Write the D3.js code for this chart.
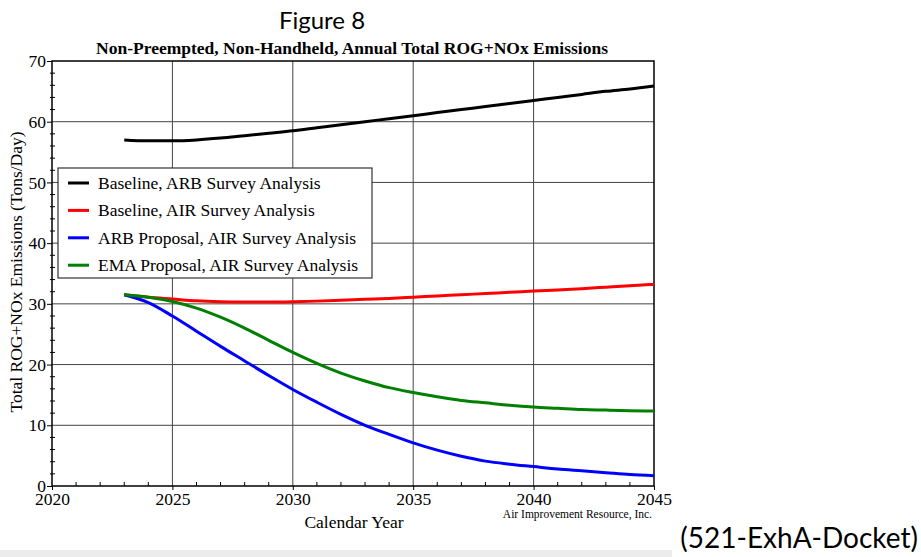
<!DOCTYPE html>
<html>
<head>
<meta charset="utf-8">
<script src="https://cdn.jsdelivr.net/npm/d3@7"></script>
<style>
  html, body { margin: 0; padding: 0; background: #fff; }
  svg { display: block; }
</style>
</head>
<body>
<svg id="chart" width="921" height="557"></svg>
<script>
// Calendar years and annual total ROG+NOx emissions (tons/day)
const years = d3.range(2023, 2046);
const baselineARB = [57.0, 56.85, 56.85, 57.0, 57.3, 57.7, 58.1, 58.5, 59.0, 59.5, 60.0, 60.5, 61.0, 61.5, 62.0, 62.5, 63.0, 63.5, 64.0, 64.5, 65.0, 65.4, 65.9];
const baselineAIR = [31.5, 31.1, 30.8, 30.5, 30.35, 30.3, 30.3, 30.35, 30.45, 30.6, 30.75, 30.9, 31.1, 31.3, 31.5, 31.7, 31.9, 32.1, 32.3, 32.5, 32.75, 33.0, 33.2];
const arbProposal = [31.5, 30.2, 28.0, 25.5, 23.0, 20.6, 18.2, 15.9, 13.8, 11.8, 10.0, 8.5, 7.1, 5.9, 4.9, 4.1, 3.6, 3.2, 2.8, 2.5, 2.2, 1.9, 1.7];
const emaProposal = [31.5, 31.1, 30.4, 29.3, 27.8, 26.0, 24.0, 22.0, 20.2, 18.6, 17.3, 16.2, 15.4, 14.7, 14.1, 13.7, 13.3, 13.0, 12.8, 12.6, 12.5, 12.4, 12.35];

const seriesNames = ["Baseline, ARB Survey Analysis", "Baseline, AIR Survey Analysis", "ARB Proposal, AIR Survey Analysis", "EMA Proposal, AIR Survey Analysis"];
const seriesValues = [baselineARB, baselineAIR, arbProposal, emaProposal];
const seriesColors = ["#000000", "#ff0000", "#0000ff", "#008000"];

const xTicks = [2020, 2025, 2030, 2035, 2040, 2045];
const yTicks = [0, 10, 20, 30, 40, 50, 60, 70];

const svg = d3.select("#chart");
const serif = "'Liberation Serif', 'Times New Roman', serif";
const fs = 17.5;

const plotL = 52, plotR = 654, plotT = 61, plotB = 486;
const x = d3.scaleLinear().domain([2020, 2045]).range([plotL, plotR]);
const y = d3.scaleLinear().domain([0, 70]).range([plotB, plotT]);

// Headings
svg.append("text").attr("x", 322).attr("y", 29).attr("text-anchor", "middle")
  .attr("font-family", "Lato, 'Noto Sans', sans-serif").attr("font-size", 24)
  .text("Figure 8");
svg.append("text").attr("x", 352).attr("y", 54).attr("text-anchor", "middle")
  .attr("font-family", serif).attr("font-size", 17.5).attr("font-weight", "bold")
  .text("Non-Preempted, Non-Handheld, Annual Total ROG+NOx Emissions");

// Grid lines
const grid = svg.append("g").attr("stroke", "#444").attr("stroke-width", 1);
xTicks.slice(1, -1).forEach(t => grid.append("line")
  .attr("x1", x(t)).attr("x2", x(t)).attr("y1", plotT).attr("y2", plotB));
yTicks.slice(1, -1).forEach(t => grid.append("line")
  .attr("x1", plotL).attr("x2", plotR).attr("y1", y(t)).attr("y2", y(t)));

// Minor ticks
const minor = svg.append("g").attr("stroke", "#000").attr("stroke-width", 1);
d3.range(2021, 2045).filter(v => v % 5 !== 0).forEach(v => minor.append("line")
  .attr("x1", x(v)).attr("x2", x(v)).attr("y1", plotB).attr("y2", plotB - 4));
d3.range(2, 70, 2).filter(v => v % 10 !== 0).forEach(v => minor.append("line")
  .attr("x1", plotL - 2).attr("x2", plotL + 3).attr("y1", y(v)).attr("y2", y(v)));

// Axes
const xAxis = svg.append("g").attr("transform", `translate(0,${plotB})`)
  .call(d3.axisBottom(x).tickValues(xTicks).tickFormat(d3.format("d")).tickSize(4).tickPadding(3));
const yAxis = svg.append("g").attr("transform", `translate(${plotL},0)`)
  .call(d3.axisLeft(y).tickValues(yTicks).tickSize(5).tickPadding(1));
[xAxis, yAxis].forEach(g => {
  g.select(".domain").remove();
  g.selectAll("text").attr("font-family", serif).attr("font-size", fs).attr("fill", "#000");
  g.selectAll("line").attr("stroke", "#000");
});

// Frame
svg.append("rect").attr("x", plotL).attr("y", plotT).attr("width", plotR - plotL).attr("height", plotB - plotT)
  .attr("fill", "none").attr("stroke", "#000").attr("stroke-width", 1.5);

// Series lines
const line = d3.line().x((d, i) => x(years[i])).y(d => y(d)).curve(d3.curveMonotoneX);
seriesValues.forEach((vals, k) => svg.append("path").datum(vals)
  .attr("d", line).attr("fill", "none").attr("stroke", seriesColors[k])
  .attr("stroke-width", 3).attr("stroke-linejoin", "round"));

// Legend
const lg = svg.append("g");
lg.append("rect").attr("x", 58).attr("y", 168).attr("width", 314).attr("height", 110)
  .attr("fill", "#fff").attr("stroke", "#333").attr("stroke-width", 1.2);
seriesNames.forEach((name, k) => {
  const ly = 183 + k * 27.4;
  lg.append("line").attr("x1", 68).attr("x2", 89).attr("y1", ly).attr("y2", ly)
    .attr("stroke", seriesColors[k]).attr("stroke-width", 3);
  lg.append("text").attr("x", 98).attr("y", ly + 6).attr("font-family", serif)
    .attr("font-size", fs).text(name);
});

// Axis titles
svg.append("text").attr("transform", "translate(22,272) rotate(-90)").attr("text-anchor", "middle")
  .attr("font-family", serif).attr("font-size", fs).text("Total ROG+NOx Emissions (Tons/Day)");
svg.append("text").attr("x", 354).attr("y", 528).attr("text-anchor", "middle")
  .attr("font-family", serif).attr("font-size", fs).text("Calendar Year");
svg.append("text").attr("x", 652).attr("y", 518).attr("text-anchor", "end")
  .attr("font-family", serif).attr("font-size", 11.5).text("Air Improvement Resource, Inc.");

// Footer
svg.append("rect").attr("x", 0).attr("y", 550).attr("width", 672).attr("height", 7).attr("fill", "#ececec");
svg.append("text").attr("x", 918).attr("y", 548).attr("text-anchor", "end")
  .attr("font-family", "Lato, 'Noto Sans', sans-serif").attr("font-size", 28).text("(521-ExhA-Docket)");
</script>
</body>
</html>
